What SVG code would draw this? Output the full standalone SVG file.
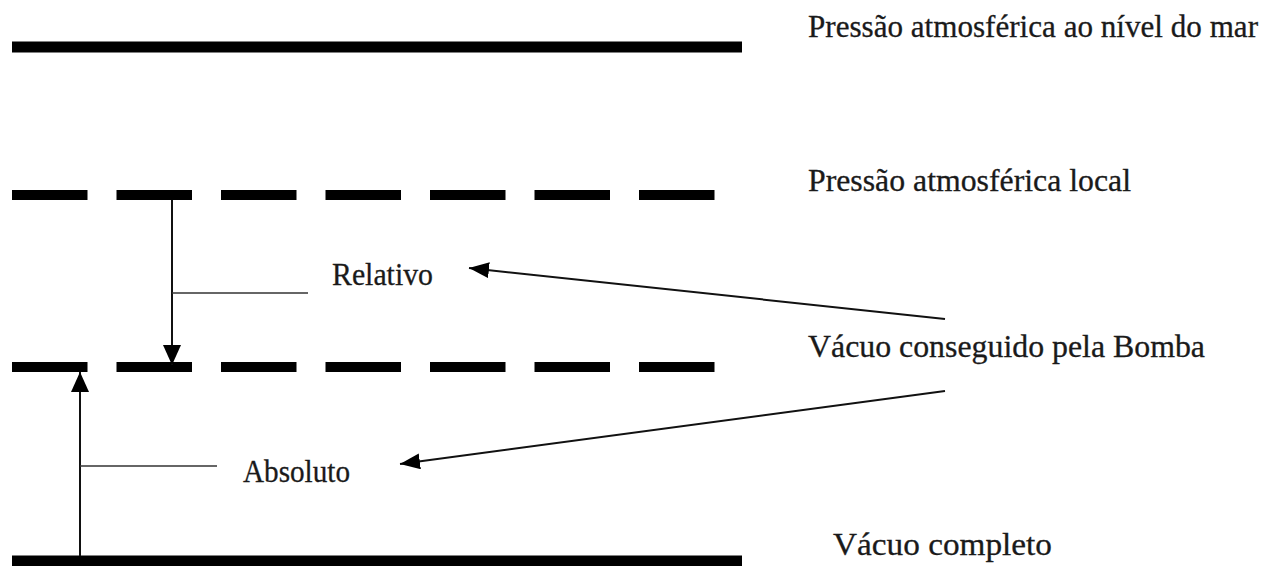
<svg xmlns="http://www.w3.org/2000/svg" width="1274" height="566" viewBox="0 0 1274 566">
  <defs>
    <style>
      .solid { stroke: #000; stroke-width: 11; fill: none; }
      .dash { stroke: #000; stroke-width: 10; fill: none; stroke-dasharray: 75.5 29; }
      .conn { stroke: #111; stroke-width: 2; fill: none; }
      .leader { stroke: #333; stroke-width: 1.5; fill: none; }
      .lbl { font-family: "Liberation Serif", "Times New Roman", serif; font-size: 31px; fill: #1a1a1a; stroke: #1a1a1a; stroke-width: 0.3; }
    </style>
    <marker id="arrow" markerUnits="userSpaceOnUse" markerWidth="22" markerHeight="18" refX="20" refY="8" orient="auto">
      <path d="M0,0 L20,8 L0,16 z" fill="#000"/>
    </marker>
    <marker id="arrowV" markerUnits="userSpaceOnUse" markerWidth="22" markerHeight="20" refX="20" refY="9" orient="auto">
      <path d="M0,0 L20,9 L0,18 z" fill="#000"/>
    </marker>
  </defs>
  <rect width="1274" height="566" fill="#fff"/>

  <g id="level-sea">
    <line class="solid" x1="12" y1="47" x2="742" y2="47"/>
    <text class="lbl" x="808" y="37" textLength="450" lengthAdjust="spacingAndGlyphs">Pressão atmosférica ao nível do mar</text>
  </g>
  <g id="level-local">
    <line class="dash" x1="12" y1="195" x2="715" y2="195"/>
    <text class="lbl" x="808" y="191" textLength="323" lengthAdjust="spacingAndGlyphs">Pressão atmosférica local</text>
  </g>
  <g id="level-pump">
    <line class="dash" x1="12" y1="367" x2="715" y2="367"/>
    <text class="lbl" x="808" y="357" textLength="397" lengthAdjust="spacingAndGlyphs">Vácuo conseguido pela Bomba</text>
  </g>
  <g id="level-vacuum">
    <line class="solid" x1="12" y1="561" x2="742" y2="561"/>
    <text class="lbl" x="833" y="555" textLength="219" lengthAdjust="spacingAndGlyphs">Vácuo completo</text>
  </g>
  <g id="label-relativo">
    <text class="lbl" x="332" y="285" textLength="101" lengthAdjust="spacingAndGlyphs">Relativo</text>
  </g>
  <g id="label-absoluto">
    <text class="lbl" x="243" y="482" textLength="107" lengthAdjust="spacingAndGlyphs">Absoluto</text>
  </g>

  <g id="connectors">
    <line class="conn" x1="172" y1="200" x2="172" y2="365" marker-end="url(#arrowV)"/>
    <line class="leader" x1="172" y1="293" x2="308" y2="293"/>
    <line class="conn" x1="80" y1="556" x2="80" y2="372" marker-end="url(#arrowV)"/>
    <line class="leader" x1="80" y1="466" x2="217" y2="466"/>
    <line class="conn" x1="945" y1="319" x2="469" y2="268" marker-end="url(#arrow)"/>
    <line class="conn" x1="945" y1="391" x2="400" y2="464" marker-end="url(#arrow)"/>
  </g>
</svg>
